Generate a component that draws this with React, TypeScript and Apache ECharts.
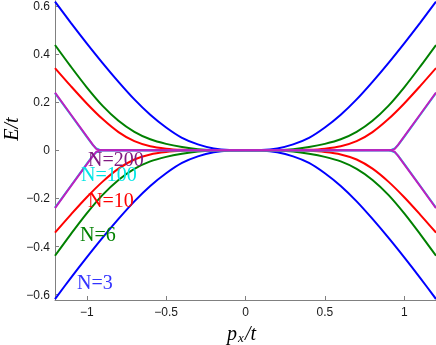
import React, { useEffect, useRef } from "react";
import * as echarts from "echarts";

// momentum grid for the smooth bands (p_x / t)
const P = [-1.2, -1.1, -1.0, -0.9, -0.8, -0.7, -0.6, -0.5, -0.4, -0.3, -0.2, -0.1, 0, 0.1, 0.2, 0.3, 0.4, 0.5, 0.6, 0.7, 0.8, 0.9, 1.0, 1.1, 1.2];
// upper branch E/t (lower branch is its mirror)
const E3 = [0.618, 0.53, 0.445, 0.363, 0.285, 0.212, 0.148, 0.095, 0.052, 0.025, 0.008, 0.001, 0, 0.001, 0.008, 0.025, 0.052, 0.095, 0.148, 0.212, 0.285, 0.363, 0.445, 0.53, 0.618];
const E6 = [0.438, 0.348, 0.262, 0.185, 0.123, 0.077, 0.046, 0.027, 0.014, 0.005, 0.001, 0, 0, 0, 0.001, 0.005, 0.014, 0.027, 0.046, 0.077, 0.123, 0.185, 0.262, 0.348, 0.438];
const E10 = [0.342, 0.267, 0.195, 0.13, 0.076, 0.038, 0.017, 0.007, 0.002, 0, 0, 0, 0, 0, 0, 0, 0.002, 0.007, 0.017, 0.038, 0.076, 0.13, 0.195, 0.267, 0.342];
// finer grid for the kinked large-N bands
const PK = [-1.2, -1.1, -1.0, -0.96, -0.94, -0.92, -0.9, 0, 0.9, 0.92, 0.94, 0.96, 1.0, 1.1, 1.2];
const E100 = [0.238, 0.147, 0.056, 0.021, 0.008, 0.003, 0.001, 0, 0.001, 0.003, 0.008, 0.021, 0.056, 0.147, 0.238];
const E200 = [0.24, 0.149, 0.058, 0.022, 0.006, 0.001, 0, 0, 0, 0.001, 0.006, 0.022, 0.058, 0.149, 0.24];

const Y_TICKS = [-0.6, -0.4, -0.2, 0, 0.2, 0.4, 0.6];
const X_TICKS = [-1, -0.5, 0, 0.5, 1];

const fmt = (v: number) => (v < 0 ? "\u2212" + String(-v) : String(v));

export default function App() {
  const ref = useRef<HTMLDivElement>(null);
  useEffect(() => {
    if (!ref.current) return;
    const chart = echarts.init(ref.current, undefined, { renderer: "svg" });
    const bands = [
      { name: "N=3", p: P, e: E3, color: "#0000FF", smooth: true },
      { name: "N=6", p: P, e: E6, color: "#008000", smooth: true },
      { name: "N=10", p: P, e: E10, color: "#FF0000", smooth: true },
      { name: "N=100", p: PK, e: E100, color: "#00E5E5", smooth: false },
      { name: "N=200", p: PK, e: E200, color: "#BF1FBF", smooth: false },
    ];
    const series: any[] = [];
    bands.forEach((b) => {
      [1, -1].forEach((s) => {
        series.push({
          type: "line",
          name: b.name,
          data: b.p.map((p, i) => [p, s * b.e[i]]),
          showSymbol: false,
          smooth: b.smooth ? 0.3 : false,
          lineStyle: { color: b.color, width: 2 },
          itemStyle: { color: b.color },
          clip: true,
        });
      });
    });
    const label = (text: string, x: number, y: number, fill: string) => ({
      type: "text",
      x,
      y,
      style: { text, fill, font: '20px "Liberation Serif", serif', align: "left", verticalAlign: "middle" },
      z: 100,
    });
    const axisFont = 'italic 20px "Liberation Serif", serif';
    chart.setOption({
      animation: false,
      grid: { left: 55, right: 0, top: 0, bottom: 45 },
      xAxis: {
        type: "value",
        min: -1.2,
        max: 1.2,
        splitLine: { show: false },
        axisLine: { show: true, onZero: false, lineStyle: { color: "#808080", width: 1 } },
        axisTick: { show: true, inside: true, length: 4, customValues: X_TICKS, lineStyle: { color: "#808080" } },
        axisLabel: { customValues: X_TICKS, formatter: fmt, margin: 6, color: "#1a1a1a", fontSize: 12, fontFamily: '"Liberation Sans", Arial, sans-serif' },
      },
      yAxis: {
        type: "value",
        min: -0.622,
        max: 0.622,
        splitLine: { show: false },
        axisLine: { show: true, onZero: false, lineStyle: { color: "#808080", width: 1 } },
        axisTick: { show: true, inside: true, length: 4, customValues: Y_TICKS, lineStyle: { color: "#808080" } },
        axisLabel: { customValues: Y_TICKS, formatter: fmt, margin: 5, color: "#1a1a1a", fontSize: 12, fontFamily: '"Liberation Sans", Arial, sans-serif' },
      },
      series,
      graphic: [
        label("N=200", 88, 159, "#801A80"),
        label("N=100", 81, 174, "#00E5E5"),
        label("N=10", 88, 200, "#FF0000"),
        label("N=6", 80, 234, "#008000"),
        label("N=3", 77, 282, "#3333FF"),
        {
          type: "text",
          x: 11,
          y: 129,
          rotation: Math.PI / 2,
          style: { text: "E/t", font: axisFont, fill: "#000", align: "center", verticalAlign: "middle" },
        },
        { type: "text", x: 227, y: 333, style: { text: "p", font: axisFont, fill: "#000", align: "left", verticalAlign: "middle" } },
        { type: "text", x: 238, y: 337, style: { text: "x", font: 'italic 13px "Liberation Serif", serif', fill: "#000", align: "left", verticalAlign: "middle" } },
        { type: "text", x: 245, y: 333, style: { text: "/t", font: axisFont, fill: "#000", align: "left", verticalAlign: "middle" } },
      ],
    });
    return () => chart.dispose();
  }, []);
  return <div ref={ref} style={{ position: "fixed", left: 0, top: 0, width: 436, height: 345 }} />;
}
